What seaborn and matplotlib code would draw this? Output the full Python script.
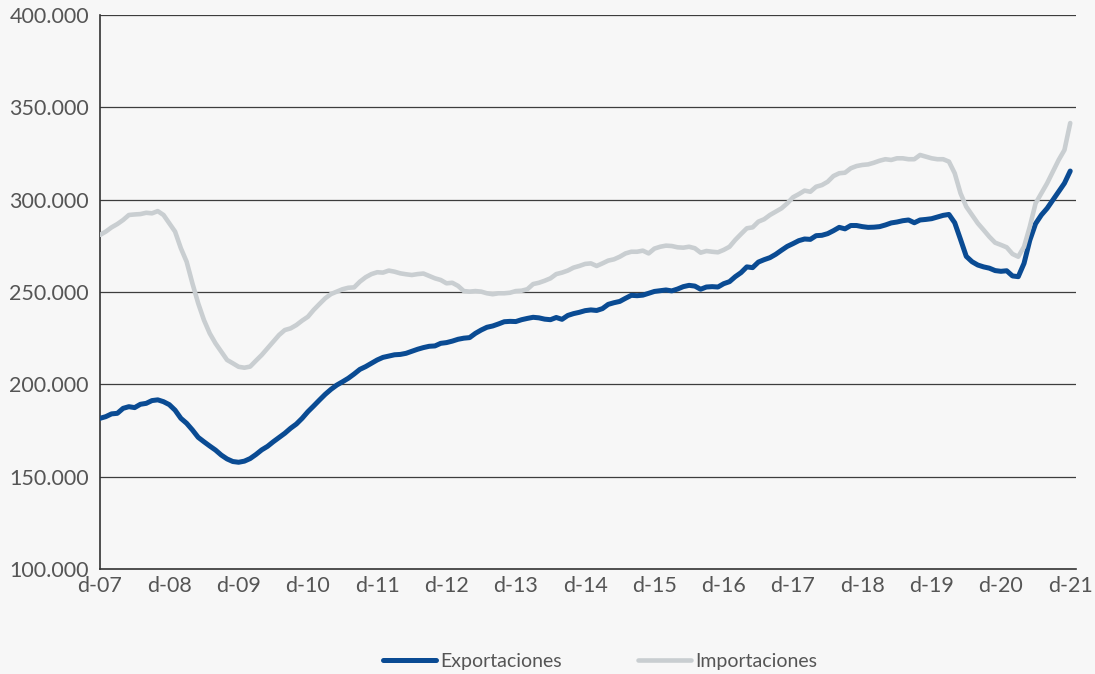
import numpy as np
import pandas as pd
import matplotlib
matplotlib.use("Agg")
import matplotlib.pyplot as plt
import seaborn as sns

# Monthly values (thousands), Dec-2007 .. Dec-2021
exportaciones = [
    181.6, 182.5, 184.0, 184.3, 187.0, 187.9, 187.4, 189.2, 189.7, 191.2, 191.6, 190.6,
    189.0, 186.0, 181.6, 178.9, 175.3, 171.3, 168.9, 166.6, 164.4, 161.7, 159.6, 158.2,
    157.8, 158.4, 159.8, 162.0, 164.5, 166.4, 168.9, 171.2, 173.5, 176.2, 178.5, 181.6,
    185.2, 188.3, 191.5, 194.6, 197.3, 199.6, 201.4, 203.3, 205.6, 208.1, 209.6, 211.4,
    213.2, 214.6, 215.3, 216.0, 216.2, 216.8, 217.9, 219.0, 219.9, 220.6, 220.8, 222.2,
    222.6, 223.4, 224.4, 225.0, 225.3, 227.6, 229.4, 230.9, 231.6, 232.7, 233.9, 234.1,
    234.0, 235.0, 235.7, 236.3, 236.0, 235.3, 235.0, 236.2, 235.2, 237.3, 238.3, 239.0,
    239.9, 240.3, 240.0, 241.0, 243.3, 244.2, 244.9, 246.6, 248.2, 248.0, 248.3, 249.3,
    250.3, 250.7, 251.1, 250.6, 251.6, 252.9, 253.6, 253.2, 251.5, 252.7, 252.9, 252.7,
    254.5, 255.6, 258.3, 260.5, 263.6, 263.2, 266.2, 267.5, 268.6, 270.4, 272.6, 274.7,
    276.2, 277.8, 278.7, 278.5, 280.5, 280.7, 281.6, 283.2, 285.0, 284.2, 286.0, 286.0,
    285.4, 285.0, 285.1, 285.4, 286.3, 287.4, 287.9, 288.6, 289.0, 287.5, 289.0, 289.3,
    289.7, 290.6, 291.5, 292.0, 287.5, 278.5, 269.3, 266.4, 264.6, 263.6, 262.9, 261.6,
    261.2, 261.5, 258.7, 258.3, 265.5, 278.0, 287.0, 291.7, 295.3, 299.8, 304.3, 308.9,
    315.5,
]
importaciones = [
    280.9, 282.7, 285.0, 286.8, 289.0, 291.7, 292.0, 292.2, 292.9, 292.6, 293.8, 291.7,
    287.2, 282.7, 273.7, 266.4, 254.7, 243.9, 234.8, 227.6, 222.2, 217.7, 213.2, 211.4,
    209.5, 209.0, 209.6, 212.8, 215.9, 219.5, 223.1, 226.7, 229.4, 230.3, 232.1, 234.5,
    236.6, 240.3, 243.5, 246.6, 248.9, 250.2, 251.5, 252.3, 252.5, 255.6, 258.0, 259.7,
    260.7, 260.5, 261.6, 261.0, 260.1, 259.6, 259.2, 259.7, 260.0, 258.7, 257.4, 256.5,
    254.7, 255.0, 253.3, 250.5, 250.2, 250.5, 250.2, 249.3, 248.8, 249.3, 249.3, 249.6,
    250.5, 250.7, 251.5, 254.3, 255.0, 256.1, 257.4, 259.7, 260.5, 261.6, 263.2, 264.1,
    265.2, 265.5, 264.1, 265.5, 267.0, 267.7, 269.1, 270.9, 271.8, 271.8, 272.4, 270.9,
    273.5, 274.5, 275.1, 274.9, 274.2, 274.0, 274.5, 273.7, 271.3, 272.2, 271.8, 271.5,
    272.8, 274.5, 278.2, 281.4, 284.5, 285.0, 288.1, 289.4, 291.7, 293.5, 295.3, 298.0,
    301.3, 303.0, 304.9, 304.3, 307.0, 307.9, 309.7, 312.8, 314.3, 314.6, 317.0, 318.2,
    318.8, 319.1, 320.0, 321.1, 321.9, 321.5, 322.4, 322.4, 321.9, 321.9, 324.2, 323.3,
    322.4, 321.9, 321.9, 320.6, 314.3, 303.5, 296.2, 291.7, 287.2, 283.6, 279.9, 276.7,
    275.5, 274.2, 270.6, 269.1, 274.5, 285.4, 298.0, 303.5, 308.9, 315.2, 321.5, 326.9,
    341.5,
]
tick_labels = ["d-07", "d-08", "d-09", "d-10", "d-11", "d-12", "d-13", "d-14",
               "d-15", "d-16", "d-17", "d-18", "d-19", "d-20", "d-21"]
y_ticks = [100000, 150000, 200000, 250000, 300000, 350000, 400000]

fechas = pd.date_range("2007-12-01", periods=len(exportaciones), freq="MS")
df = pd.DataFrame({
    "mes": np.arange(len(fechas)),
    "Exportaciones": np.array(exportaciones) * 1000,
    "Importaciones": np.array(importaciones) * 1000,
})

bg = "#f7f7f7"
txt = "#555555"
sns.set_style("white", {"axes.facecolor": bg, "figure.facecolor": bg})
plt.rcParams["font.family"] = ["Lato", "DejaVu Sans"]

fig = plt.figure(figsize=(10.95, 6.74), dpi=100)
ax = fig.add_axes([100 / 1095, 1 - 569 / 674, 976 / 1095, 554 / 674])

sns.lineplot(data=df, x="mes", y="Exportaciones", ax=ax, color="#0a4b93",
             linewidth=3.6, label="Exportaciones", zorder=3)
sns.lineplot(data=df, x="mes", y="Importaciones", ax=ax, color="#c9ced1",
             linewidth=3.3, label="Importaciones", zorder=4)
for l in ax.get_lines():
    l.set_solid_capstyle("round")
    l.set_solid_joinstyle("round")

ax.set_xlim(0, 169)
ax.set_ylim(100000, 400000)
ax.set_yticks(y_ticks)
ax.set_yticklabels([f"{v:,}".replace(",", ".") for v in y_ticks])
ax.set_xticks(np.arange(0, 169, 12))
ax.set_xticklabels(tick_labels)
ax.set_xlabel("")
ax.set_ylabel("")

for v in y_ticks[1:]:
    ax.axhline(v, color="#3d3d3d", linewidth=0.9, zorder=1)

for s in ["top", "right"]:
    ax.spines[s].set_visible(False)
for s in ["left", "bottom"]:
    ax.spines[s].set_color("#333333")
    ax.spines[s].set_linewidth(1.2)

ax.tick_params(axis="both", direction="out", length=5, width=1, color="#333333",
               labelcolor=txt, labelsize=15.5, pad=3)
ax.tick_params(axis="x", pad=0)

ax.get_legend().remove()
h, lab = ax.get_legend_handles_labels()
leg = fig.legend(h, lab, loc="center", bbox_to_anchor=(600 / 1095, 1 - 661 / 674),
                 ncol=2, frameon=False, handlelength=2.75, handletextpad=0.2,
                 columnspacing=3.9, prop={"size": 14})
for t in leg.get_texts():
    t.set_color(txt)

fig.savefig("out.png", dpi=100, facecolor=bg)
